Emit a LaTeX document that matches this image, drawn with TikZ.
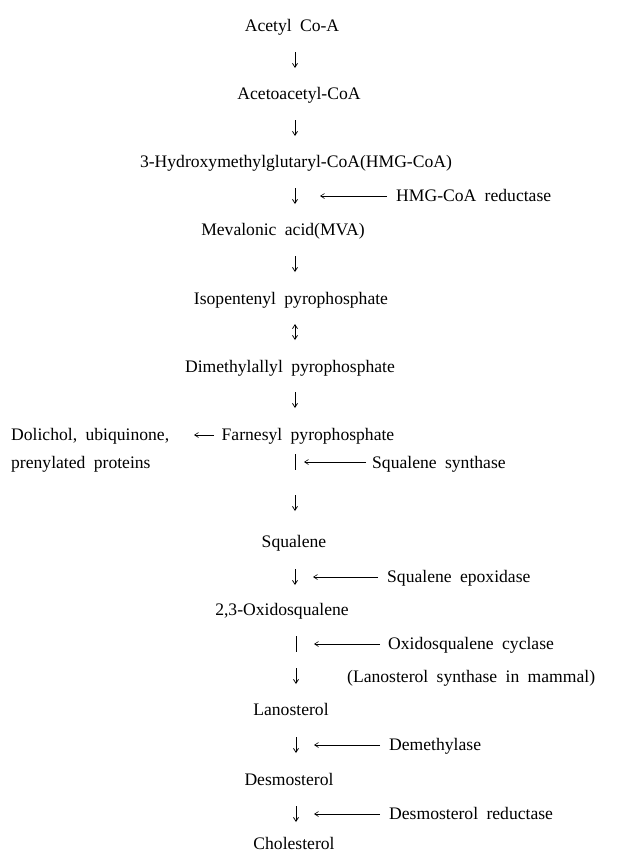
\documentclass[tikz,border=0pt]{standalone}
\usepackage{fontspec}
\setmainfont{Liberation Serif}[WordSpace=1.9]
\usetikzlibrary{arrows.meta}
\begin{document}
\begin{tikzpicture}[x=1pt,y=-1pt,
  txt/.style={inner sep=0pt,anchor=base,font=\fontsize{17.6}{20}\selectfont},
  txtw/.style={txt,anchor=base west},
  varrow/.style={line width=0.75pt,-{Straight Barb[length=4pt,width=5pt]}},
  vboth/.style={line width=0.75pt,{Straight Barb[length=4pt,width=5pt]}-{Straight Barb[length=4pt,width=5pt]}},
  vbar/.style={line width=0.75pt},
  harrow/.style={line width=0.6pt,-{Straight Barb[length=4pt,width=5pt]}}]
\useasboundingbox (0,0) rectangle (617,852);
% main chain
\node[txt] (a1) at (292,31) {Acetyl Co-A};
\node[txt] (a2) at (299,99) {Acetoacetyl-CoA};
\node[txt] (a3) at (296,167) {3-Hydroxymethylglutaryl-CoA(HMG-CoA)};
\node[txt] (a4) at (283,235) {Mevalonic acid(MVA)};
\node[txt] (a5) at (291,304) {Isopentenyl pyrophosphate};
\node[txt] (a6) at (290,372) {Dimethylallyl pyrophosphate};
\node[txt] (a7) at (308,440) {Farnesyl pyrophosphate};
\node[txt] (a8) at (294,547) {Squalene};
\node[txt] (a9) at (282,615) {2,3-Oxidosqualene};
\node[txt] (a10) at (291,715) {Lanosterol};
\node[txt] (a11) at (289,785) {Desmosterol};
\node[txt] (a12) at (294,849) {Cholesterol};
% side products
\node[txtw] (dol) at (11,440) {Dolichol, ubiquinone,};
\node[txtw] (pren) at (11,468) {prenylated proteins};
% enzymes
\node[txtw] (e1) at (396,201) {HMG-CoA reductase};
\node[txtw] (e2) at (372,468) {Squalene synthase};
\node[txtw] (e3) at (387,582) {Squalene epoxidase};
\node[txtw] (e4) at (388,649) {Oxidosqualene cyclase};
\node[txtw] (e5) at (347,682) {(Lanosterol synthase in mammal)};
\node[txtw] (e6) at (389,750) {Demethylase};
\node[txtw] (e7) at (389,819) {Desmosterol reductase};
% arrow midpoints
\coordinate (m1) at (295,60);
\coordinate (m2) at (295,128);
\coordinate (m3) at (295,196);
\coordinate (m4) at (295,264);
\coordinate (m5) at (295,332);
\coordinate (m6) at (295,400);
\coordinate (m7a) at (295,462);
\coordinate (m7b) at (295,503);
\coordinate (m8) at (295,577);
\coordinate (m9a) at (296,644);
\coordinate (m9b) at (296,676);
\coordinate (m10) at (296,745);
\coordinate (m11) at (296,814);
% vertical arrows
\foreach \m in {m1,m2,m3,m4,m6,m7b,m8,m9b,m10,m11}
  \draw[varrow] ([yshift=8pt]\m) -- ([yshift=-8pt]\m);
\draw[vboth] ([yshift=8pt]m5) -- ([yshift=-8pt]m5);
\draw[vbar] ([yshift=8pt]m7a) -- ([yshift=-8pt]m7a);
\draw[vbar] ([yshift=8pt]m9a) -- ([yshift=-8pt]m9a);
% enzyme arrows
\coordinate (t1) at (320,196);
\coordinate (t2) at (304,462);
\coordinate (t3) at (313,577);
\coordinate (t4) at (314,644);
\coordinate (t6) at (314,745);
\coordinate (t7) at (314,814);
\draw[harrow] (t1 -| e1.west) ++(-9,0) -- (t1);
\draw[harrow] (t2 -| e2.west) ++(-6,0) -- (t2);
\draw[harrow] (t3 -| e3.west) ++(-9,0) -- (t3);
\draw[harrow] (t4 -| e4.west) ++(-8,0) -- (t4);
\draw[harrow] (t6 -| e6.west) ++(-9,0) -- (t6);
\draw[harrow] (t7 -| e7.west) ++(-9,0) -- (t7);
% side branch
\coordinate (s1) at (214,435);
\coordinate (s2) at (194,435);
\draw[harrow] (s1) -- (s2);
\end{tikzpicture}
\end{document}
